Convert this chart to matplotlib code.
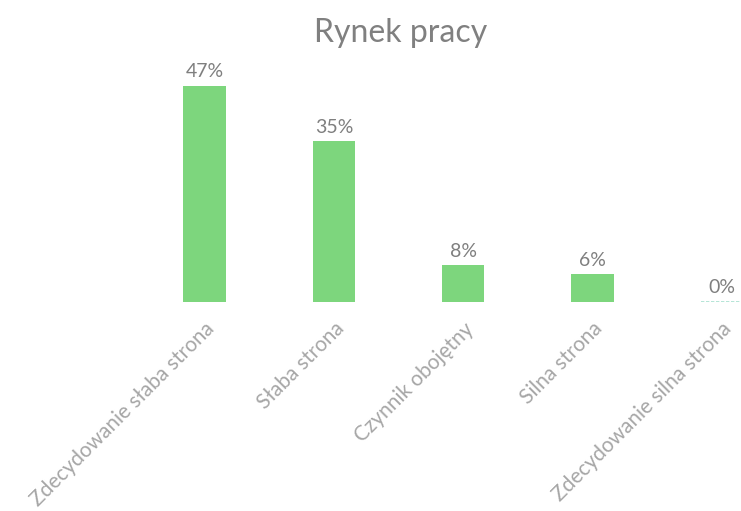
import numpy as np
import matplotlib
matplotlib.use("Agg")
import matplotlib.pyplot as plt

# Chart data
categories = ["Zdecydowanie słaba strona", "Słaba strona", "Czynnik obojętny",
              "Silna strona", "Zdecydowanie silna strona"]
values = [47, 35, 8, 6, 0]

plt.rcParams['font.family'] = ['Lato', 'DejaVu Sans']

fig = plt.figure(figsize=(7.41, 5.11), dpi=100)
# axes runs past the right edge, as in the cropped scan
ax = fig.add_axes([0.189, 0.409, 0.872, 0.45])

x = np.arange(len(categories))
ax.bar(x, values, width=0.33, color="#7dd67d", linewidth=0.0)
# zero bar shows as a faint line on the baseline
ax.plot([x[-1] - 0.16, x[-1] + 0.16], [0, 0], color="#a8e0cf", lw=1.2, ls=(0, (2, 1)))

for xi, v in zip(x, values):
    ax.text(xi, v + 1.2, f"{v}%", ha="center", va="bottom",
            fontsize=14, color="#7f7f7f")

ax.set_xlim(-0.5, len(categories) - 0.5)
ax.set_ylim(0, 50)
ax.set_xticks(x)
ax.set_xticklabels(categories, rotation=45, ha="right", rotation_mode="anchor",
                   fontsize=15, color="#a6a6a6")
ax.tick_params(axis="x", length=0, pad=12)
ax.set_yticks([])
for s in ax.spines.values():
    s.set_visible(False)

fig.text(0.541, 0.935, "Rynek pracy", ha="center", va="center",
         fontsize=23, color="#808080")

fig.savefig("out.png", dpi=100)
